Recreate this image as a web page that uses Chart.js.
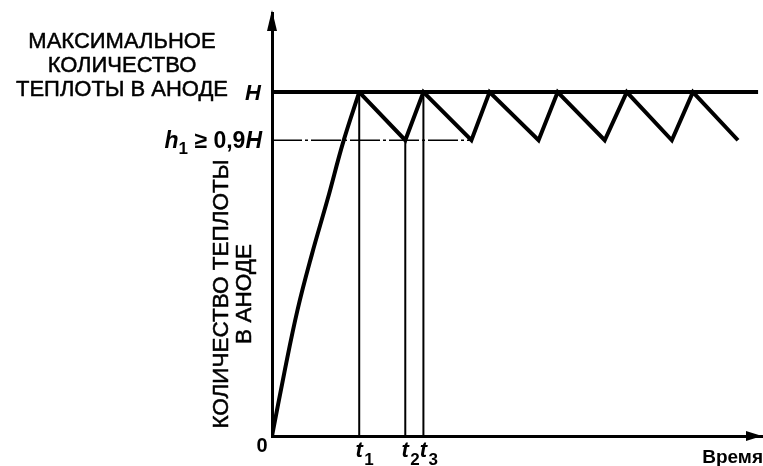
<!DOCTYPE html>
<html><head><meta charset="utf-8">
<script src="https://cdn.jsdelivr.net/npm/chart.js@4"></script>
<style>html,body{margin:0;padding:0;background:#fff}#wrap{width:763px;height:466px;position:relative}</style>
</head><body><div id="wrap"><canvas id="c" width="763" height="466"></canvas></div>
<script>
// ---- data ----
const H = 100;            // maximum anode heat
const h1 = 86;            // lower level h1 (as drawn)
const xMax = 100;
const yMax = 123;
const riseX = [0, 2.5, 5.2, 8.1, 11.3, 14.6, 17.8];
const riseY = [0, 18.3, 36.6, 52.6, 68.6, 85.8, 100];
const sawX = [17.8, 27.2, 30.9, 40.7, 44.4, 54.4, 58.3, 67.9, 72.4, 81.6, 85.9, 95.1];
const sawY = [100, 86, 100, 86, 100, 86, 100, 86, 100, 86, 100, 86];
const tMarks = [17.8, 27.2, 30.9];
const tTops = [100, 86, 100];
const tSubs = ['1', '2', '3'];
const hLineEnd = 99.2;
const h1LineEnd = 40.7;
const titleLines = ['МАКСИМАЛЬНОЕ', 'КОЛИЧЕСТВО', 'ТЕПЛОТЫ В АНОДЕ'];
const yTitleLines = ['КОЛИЧЕСТВО ТЕПЛОТЫ', 'В АНОДЕ'];
const xTitle = 'Время';
const zeroLabel = '0';
const hLabel = 'H';
const h1Label = ['h', '1', ' ≥ 0,9', 'H'];

const pts = (xs, ys) => xs.map((x, i) => ({x, y: ys[i]}));
const FONT = '"Liberation Sans", Arial, sans-serif';

const base = {borderColor: '#000', pointRadius: 0, fill: false, borderJoinStyle: 'miter', borderCapStyle: 'butt', tension: 0};
const datasets = [
  Object.assign({}, base, {data: pts([0, h1LineEnd], [h1, h1]), borderWidth: 1.5, borderDash: [30, 3, 3, 3]}),
  ...tMarks.map((t, i) => Object.assign({}, base, {data: pts([t, t], [0, tTops[i]]), borderWidth: 2})),
  Object.assign({}, base, {data: pts([0, hLineEnd], [H, H]), borderWidth: 4}),
  Object.assign({}, base, {data: pts(riseX, riseY), borderWidth: 4, tension: 0.4}),
  Object.assign({}, base, {data: pts(sawX, sawY), borderWidth: 4})
];

function heavyText(ctx, s, x, y) {
  ctx.fillText(s, x, y);
  ctx.strokeText(s, x, y);
}

const decor = {
  id: 'decor',
  afterDraw(chart) {
    const {ctx, scales: {x, y}} = chart;
    const x0 = x.getPixelForValue(0), y0 = y.getPixelForValue(0);
    const xEnd = x.getPixelForValue(xMax), yTop = y.getPixelForValue(yMax);
    ctx.save();
    ctx.fillStyle = '#000'; ctx.strokeStyle = '#000'; ctx.lineWidth = 0.5; ctx.lineJoin = 'round';
    // arrows
    ctx.beginPath(); ctx.moveTo(x0, yTop - 3); ctx.lineTo(x0 - 5, yTop + 18); ctx.lineTo(x0 + 5, yTop + 18); ctx.closePath(); ctx.fill();
    ctx.beginPath(); ctx.moveTo(xEnd, y0); ctx.lineTo(xEnd - 16, y0 - 5); ctx.lineTo(xEnd - 16, y0 + 5); ctx.closePath(); ctx.fill();
    // title
    ctx.font = '22px ' + FONT; ctx.textAlign = 'center'; ctx.textBaseline = 'alphabetic';
    titleLines.forEach((s, i) => heavyText(ctx, s, 122, 48 + i * 24));
    // y title
    ctx.save(); ctx.translate(0, 294); ctx.rotate(-Math.PI / 2);
    ctx.font = '22.5px ' + FONT;
    yTitleLines.forEach((s, i) => heavyText(ctx, s, 0, 228 + i * 23));
    ctx.restore();
    // H label
    ctx.font = 'italic bold 22px ' + FONT; ctx.textAlign = 'center';
    ctx.fillText(hLabel, x0 - 19, y.getPixelForValue(H) + 8);
    // h1 label
    const yh = y.getPixelForValue(h1) + 8;
    const parts = [['italic bold 23px ', 0], ['bold 17px ', 6], ['bold 23px ', 0], ['italic bold 23px ', 0]];
    const widths = parts.map((p, i) => { ctx.font = p[0] + FONT; return ctx.measureText(h1Label[i]).width; });
    let cx = x0 - 10 - widths.reduce((a, b) => a + b, 0);
    ctx.textAlign = 'left';
    parts.forEach((p, i) => { ctx.font = p[0] + FONT; ctx.fillText(h1Label[i], cx, yh + p[1]); cx += widths[i]; });
    // zero
    ctx.font = 'bold 20px ' + FONT; ctx.textAlign = 'center';
    ctx.fillText(zeroLabel, x0 - 10, y0 + 16);
    // t labels
    tMarks.forEach((t, i) => {
      const px = x.getPixelForValue(t);
      ctx.font = 'italic bold 22px ' + FONT; ctx.textAlign = 'center';
      ctx.fillText('t', px, y0 + 21);
      ctx.font = 'bold 17px ' + FONT; ctx.textAlign = 'left';
      ctx.fillText(tSubs[i], px + 5, y0 + 29);
    });
    // x title
    ctx.font = 'bold 19px ' + FONT; ctx.textAlign = 'right';
    ctx.fillText(xTitle, 763, 463);
    ctx.restore();
  }
};

new Chart(document.getElementById('c'), {
  type: 'line',
  data: {datasets},
  options: {
    responsive: false, animation: false, devicePixelRatio: 1,
    layout: {padding: {left: 272, right: 1, top: 13, bottom: 30}},
    plugins: {legend: {display: false}, tooltip: {enabled: false}, title: {display: false}},
    elements: {line: {borderColor: '#000'}},
    scales: {
      x: {type: 'linear', min: 0, max: xMax, grid: {display: false}, ticks: {display: false},
          border: {display: true, color: '#000', width: 3}, afterFit: s => { s.height = 0; }},
      y: {type: 'linear', min: 0, max: yMax, grid: {display: false}, ticks: {display: false},
          border: {display: true, color: '#000', width: 3}, afterFit: s => { s.width = 0; }}
    }
  },
  plugins: [decor]
});
</script></body></html>
